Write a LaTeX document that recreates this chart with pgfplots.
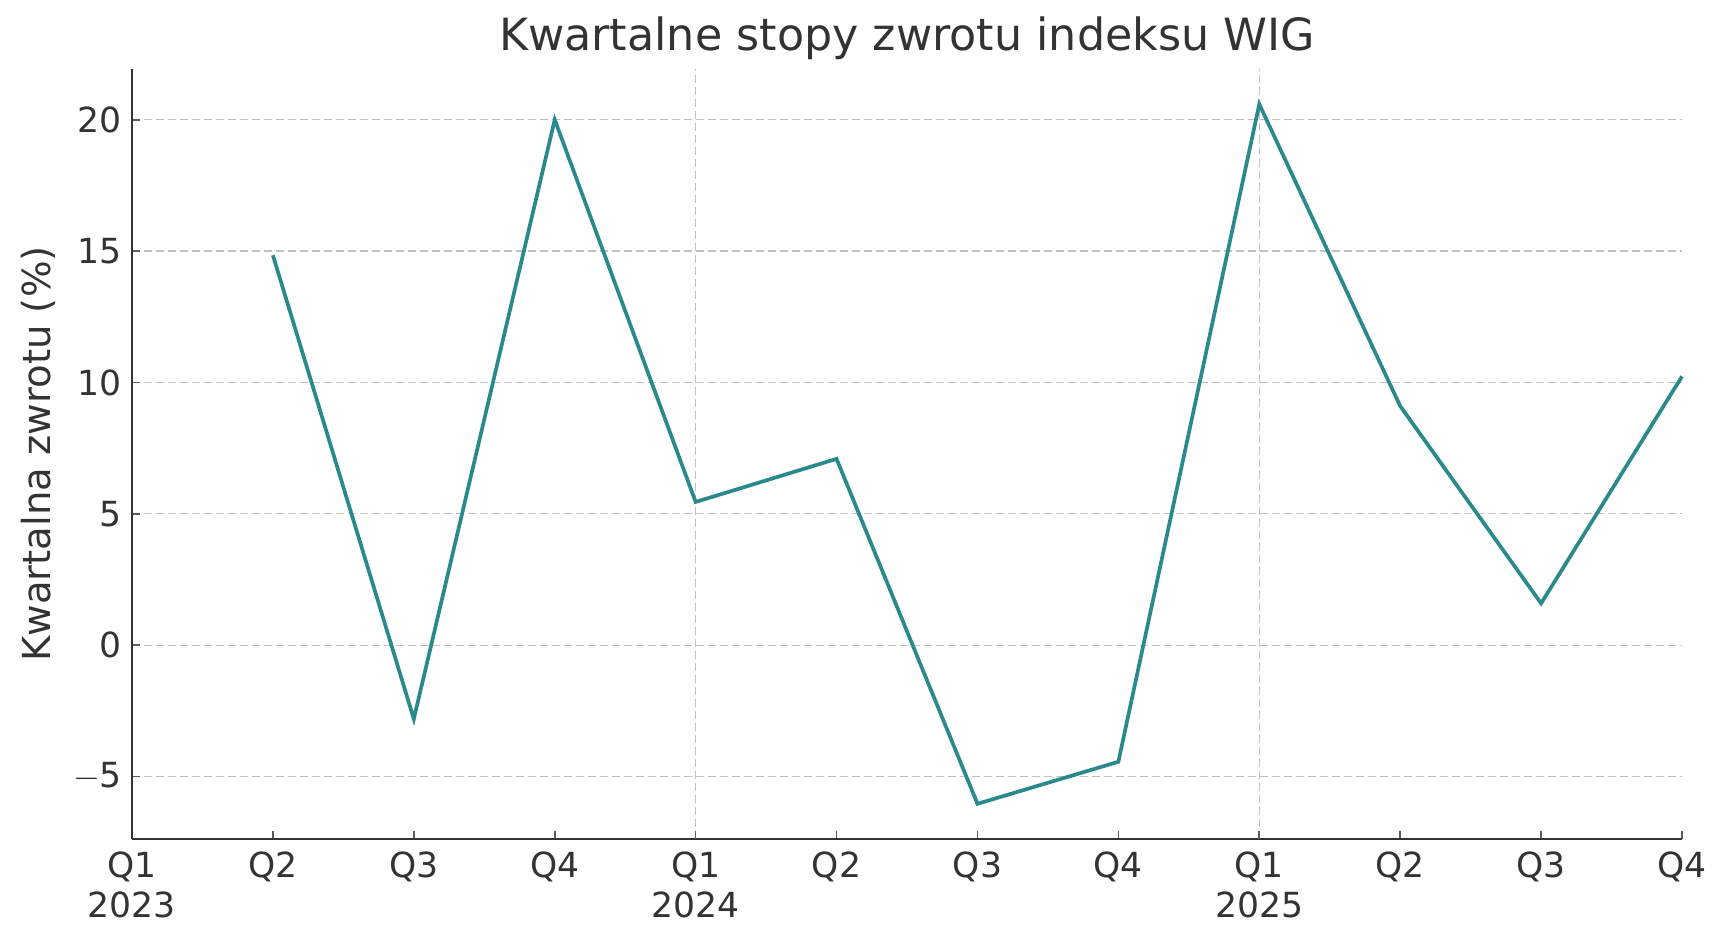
\documentclass[border=0pt]{standalone}
\usepackage{pgfplots}
\pgfplotsset{compat=1.18}
\usepackage{fontspec}
\setmainfont{DejaVu Sans}
\definecolor{teal2}{RGB}{42,137,139}
\definecolor{txt}{RGB}{51,51,51}
\definecolor{gridc}{RGB}{192,192,192}
\begin{document}
\begin{tikzpicture}
\path[use as bounding box] (-66pt,-52pt) rectangle (797.5pt,419.5pt);
\begin{axis}[
  at={(0,0)}, anchor=south west,
  scale only axis, width=775pt, height=385pt,
  xmin=0, xmax=11, ymin=-7.38, ymax=21.93,
  axis lines*=left,
  axis line style={txt, line width=1.2pt},
  xtick={0,...,11},
  xticklabels={{Q1\\2023},Q2,Q3,Q4,{Q1\\2024},Q2,Q3,Q4,{Q1\\2025},Q2,Q3,Q4},
  xticklabel style={align=center, font=\fontsize{17.3}{20}\selectfont, text=txt, yshift=-3pt},
  ytick={-5,0,5,10,15,20},
  yticklabels={$-$5,0,5,10,15,20},
  yticklabel style={font=\fontsize{17.3}{20}\selectfont, text=txt, xshift=-1.5pt},
  /pgf/number format/assume math mode=true,
  tick align=inside, major tick length=4pt,
  tick style={txt!80, line width=0.8pt},
  ymajorgrids,
  extra x ticks={4,8},
  extra x tick labels={},
  extra x tick style={grid=major},
  grid style={gridc, dash pattern=on 4pt off 2pt, line width=0.6pt},
  ylabel={Kwartalna zwrotu (\%)},
  ylabel style={font=\fontsize{19.3}{23}\selectfont, text=txt, at={(axis description cs:-0.0606,0.5)}, anchor=center},
  clip=false,
]
\addplot[teal2, line width=1.85pt] coordinates {
(1,14.84) (2,-2.81) (3,20.0) (4,5.45) (5,7.09) (6,-6.04) (7,-4.44) (8,20.59) (9,9.10) (10,1.59) (11,10.23)
};
\node[font=\fontsize{22.2}{26}\selectfont, text=txt] at (rel axis cs:0.5,1.0395) {Kwartalne stopy zwrotu indeksu WIG};
\end{axis}
\end{tikzpicture}
\end{document}
